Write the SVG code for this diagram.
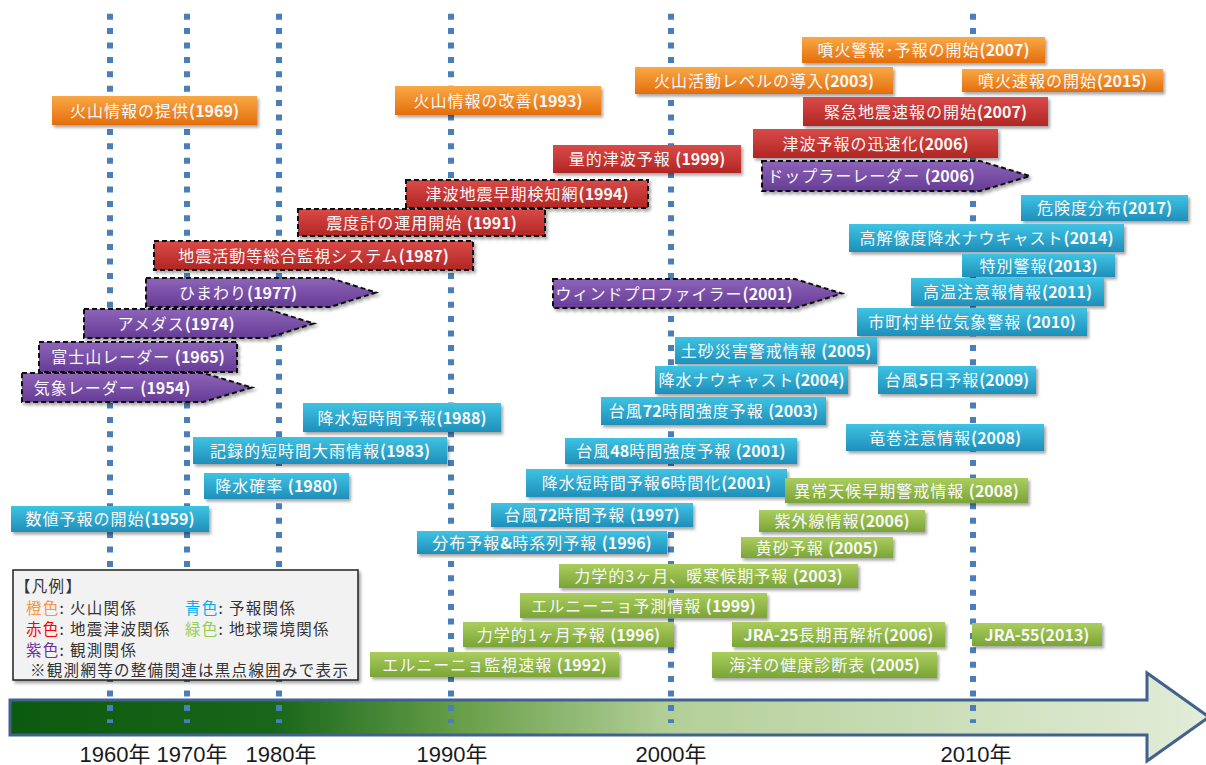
<svg xmlns="http://www.w3.org/2000/svg" width="1206" height="765" viewBox="0 0 1206 765">
<style>
.t{font-family:"Noto Sans CJK JP","Noto Sans",sans-serif;font-size:16px;fill:#f8f8f8;text-anchor:middle}
.j{letter-spacing:1px}
.y{font-weight:bold;letter-spacing:0}
.or{fill:url(#gOr)}
.rd{fill:url(#gRd)}
.pu{fill:url(#gPu)}
.bl{fill:url(#gBl)}
.gr{fill:url(#gGr)}
.box{filter:url(#sh)}
.dash{stroke:#111;stroke-width:2;stroke-dasharray:5 3}
.vl{stroke:#4a7ebb;stroke-width:6;stroke-dasharray:6 8.4;fill:none}
.yr{font-family:"Liberation Sans","Noto Sans CJK JP",sans-serif;font-size:22px;fill:#1a1a1a;text-anchor:middle}
.lg{font-family:"Noto Sans CJK JP",sans-serif;font-size:15.5px;fill:#333;letter-spacing:1.3px}
</style>
<defs>
<filter id="sh" x="-10%" y="-30%" width="125%" height="180%"><feDropShadow dx="2" dy="2.5" stdDeviation="1.5" flood-color="#000" flood-opacity="0.35"/></filter>
<linearGradient id="gOr" x1="0" y1="0" x2="0" y2="1"><stop offset="0" stop-color="#f9a846"/><stop offset="1" stop-color="#e46e0c"/></linearGradient>
<linearGradient id="gRd" x1="0" y1="0" x2="0" y2="1"><stop offset="0" stop-color="#d94a48"/><stop offset="1" stop-color="#b22624"/></linearGradient>
<linearGradient id="gPu" x1="0" y1="0" x2="0" y2="1"><stop offset="0" stop-color="#8d64b8"/><stop offset="1" stop-color="#663c96"/></linearGradient>
<linearGradient id="gBl" x1="0" y1="0" x2="0" y2="1"><stop offset="0" stop-color="#3ec3e3"/><stop offset="1" stop-color="#1f8fba"/></linearGradient>
<linearGradient id="gGr" x1="0" y1="0" x2="0" y2="1"><stop offset="0" stop-color="#abcd5e"/><stop offset="1" stop-color="#7aa536"/></linearGradient>
<linearGradient id="gAx" gradientUnits="userSpaceOnUse" x1="10" y1="0" x2="1206" y2="0"><stop offset="0" stop-color="#0b5a0f"/><stop offset="0.22" stop-color="#17661a"/><stop offset="0.38" stop-color="#6aa04a"/><stop offset="0.55" stop-color="#b3cf98"/><stop offset="1" stop-color="#e2ecd8"/></linearGradient>
</defs>
<rect width="1206" height="765" fill="#ffffff"/>

<g id="axis">
<path d="M10,700 L1147,700 L1147,673 L1209,717 L1147,761 L1147,735 L10,735 Z" fill="url(#gAx)" stroke="#41628e" stroke-width="3"/>
<text class="yr" x="115" y="762">1960年</text>
<text class="yr" x="192" y="762">1970年</text>
<text class="yr" x="281" y="762">1980年</text>
<text class="yr" x="452" y="762">1990年</text>
<text class="yr" x="671" y="762">2000年</text>
<text class="yr" x="976" y="762">2010年</text>
</g>

<g id="connectors">
<line class="vl" x1="110" y1="13.7" x2="110" y2="723"/>
<line class="vl" x1="187" y1="13.7" x2="187" y2="723"/>
<line class="vl" x1="279" y1="13.7" x2="279" y2="723"/>
<line class="vl" x1="451" y1="13.7" x2="451" y2="723"/>
<line class="vl" x1="671" y1="13.7" x2="671" y2="723"/>
<line class="vl" x1="973" y1="13.7" x2="973" y2="723"/>
</g>

<!-- orange -->
<g id="o1"><rect class="box or" x="52" y="96" width="205" height="29"/><text class="t" x="154.5" y="116.5"><tspan class="j">火山情報の提供</tspan><tspan class="y">(1969)</tspan></text></g>
<g id="o2"><rect class="box or" x="395" y="86" width="206" height="29"/><text class="t" x="498" y="106.5"><tspan class="j">火山情報の改善</tspan><tspan class="y">(1993)</tspan></text></g>
<g id="o3"><rect class="box or" x="635" y="67" width="258" height="27"/><text class="t" x="764" y="86.5"><tspan class="j">火山活動レベルの導入</tspan><tspan class="y">(2003)</tspan></text></g>
<g id="o4"><rect class="box or" x="802" y="37" width="243" height="26"/><text class="t" x="923.5" y="56"><tspan class="j">噴火警報･予報の開始</tspan><tspan class="y">(2007)</tspan></text></g>
<g id="o5"><rect class="box or" x="962" y="69" width="201" height="23"/><text class="t" x="1062.5" y="86.5"><tspan class="j">噴火速報の開始</tspan><tspan class="y">(2015)</tspan></text></g>

<!-- red -->
<g id="r1"><rect class="box rd" x="803" y="97" width="245" height="29"/><text class="t" x="925.5" y="117.5"><tspan class="j">緊急地震速報の開始</tspan><tspan class="y">(2007)</tspan></text></g>
<g id="r2"><rect class="box rd" x="753" y="129" width="245" height="29"/><text class="t" x="875.5" y="149.5"><tspan class="j">津波予報の迅速化</tspan><tspan class="y">(2006)</tspan></text></g>
<g id="r3"><rect class="box rd" x="553" y="145" width="188" height="28"/><text class="t" x="647" y="165"><tspan class="j">量的津波予報 </tspan><tspan class="y">(1999)</tspan></text></g>
<g id="r4"><rect class="box rd dash" x="406" y="180" width="242" height="28"/><text class="t" x="527" y="200"><tspan class="j">津波地震早期検知網</tspan><tspan class="y">(1994)</tspan></text></g>
<g id="r5"><rect class="box rd dash" x="298" y="209" width="247" height="27"/><text class="t" x="421.5" y="228.5"><tspan class="j">震度計の運用開始 </tspan><tspan class="y">(1991)</tspan></text></g>
<g id="r6"><rect class="box rd dash" x="154" y="241" width="319" height="29"/><text class="t" x="313.5" y="261.5"><tspan class="j">地震活動等総合監視システム</tspan><tspan class="y">(1987)</tspan></text></g>

<!-- purple -->
<g id="p1"><path class="box pu dash" d="M762,161 L980,161 L1030,176 L980,191 L762,191 Z"/><text class="t" x="871" y="182"><tspan class="j">ドップラーレーダー </tspan><tspan class="y">(2006)</tspan></text></g>
<g id="p2"><path class="box pu dash" d="M553,279 L795,279 L842,293.5 L795,308 L553,308 Z"/><text class="t" x="674" y="299.5"><tspan class="j">ウィンドプロファイラー</tspan><tspan class="y">(2001)</tspan></text></g>
<g id="p3"><path class="box pu dash" d="M146,278 L330,278 L376,292.5 L330,307 L146,307 Z"/><text class="t" x="238" y="298.5"><tspan class="j">ひまわり</tspan><tspan class="y">(1977)</tspan></text></g>
<g id="p4"><path class="box pu dash" d="M84,309 L267,309 L314,323.5 L267,338 L84,338 Z"/><text class="t" x="176" y="329.5"><tspan class="j">アメダス</tspan><tspan class="y">(1974)</tspan></text></g>
<g id="p5"><rect class="box pu dash" x="39" y="342" width="198" height="30"/><text class="t" x="138" y="363"><tspan class="j">富士山レーダー </tspan><tspan class="y">(1965)</tspan></text></g>
<g id="p6"><path class="box pu dash" d="M22,373 L203,373 L252,387.5 L203,402 L22,402 Z"/><text class="t" x="112" y="393.5"><tspan class="j">気象レーダー </tspan><tspan class="y">(1954)</tspan></text></g>

<!-- blue -->
<g id="b1"><rect class="box bl" x="1021" y="195" width="167" height="26"/><text class="t" x="1104.5" y="214"><tspan class="j">危険度分布</tspan><tspan class="y">(2017)</tspan></text></g>
<g id="b2"><rect class="box bl" x="849" y="224" width="275" height="28"/><text class="t" x="986.5" y="244"><tspan class="j">高解像度降水ナウキャスト</tspan><tspan class="y">(2014)</tspan></text></g>
<g id="b3"><rect class="box bl" x="962" y="254" width="153" height="23"/><text class="t" x="1038.5" y="271.5"><tspan class="j">特別警報</tspan><tspan class="y">(2013)</tspan></text></g>
<g id="b4"><rect class="box bl" x="911" y="278" width="193" height="28"/><text class="t" x="1007.5" y="298"><tspan class="j">高温注意報情報</tspan><tspan class="y">(2011)</tspan></text></g>
<g id="b5"><rect class="box bl" x="857" y="308" width="230" height="28"/><text class="t" x="972" y="328"><tspan class="j">市町村単位気象警報 </tspan><tspan class="y">(2010)</tspan></text></g>
<g id="b6"><rect class="box bl" x="675" y="337" width="202" height="27"/><text class="t" x="776" y="356.5"><tspan class="j">土砂災害警戒情報 </tspan><tspan class="y">(2005)</tspan></text></g>
<g id="b7"><rect class="box bl" x="655" y="366" width="193" height="28"/><text class="t" x="751.5" y="386"><tspan class="j">降水ナウキャスト</tspan><tspan class="y">(2004)</tspan></text></g>
<g id="b8"><rect class="box bl" x="878" y="366" width="158" height="28"/><text class="t" x="957" y="386"><tspan class="j">台風</tspan><tspan class="y">5</tspan><tspan class="j">日予報</tspan><tspan class="y">(2009)</tspan></text></g>
<g id="b9"><rect class="box bl" x="601" y="397" width="225" height="28"/><text class="t" x="713.5" y="417"><tspan class="j">台風</tspan><tspan class="y">72</tspan><tspan class="j">時間強度予報 </tspan><tspan class="y">(2003)</tspan></text></g>
<g id="b10"><rect class="box bl" x="846" y="424" width="198" height="27"/><text class="t" x="945" y="443.5"><tspan class="j">竜巻注意情報</tspan><tspan class="y">(2008)</tspan></text></g>
<g id="b11"><rect class="box bl" x="303" y="403" width="198" height="29"/><text class="t" x="402" y="423.5"><tspan class="j">降水短時間予報</tspan><tspan class="y">(1988)</tspan></text></g>
<g id="b12"><rect class="box bl" x="193" y="437" width="254" height="27"/><text class="t" x="320" y="456.5"><tspan class="j">記録的短時間大雨情報</tspan><tspan class="y">(1983)</tspan></text></g>
<g id="b13"><rect class="box bl" x="565" y="438" width="232" height="26"/><text class="t" x="681" y="457"><tspan class="j">台風</tspan><tspan class="y">48</tspan><tspan class="j">時間強度予報 </tspan><tspan class="y">(2001)</tspan></text></g>
<g id="b14"><rect class="box bl" x="204" y="473" width="145" height="26"/><text class="t" x="276.5" y="492"><tspan class="j">降水確率 </tspan><tspan class="y">(1980)</tspan></text></g>
<g id="b15"><rect class="box bl" x="526" y="469" width="261" height="28"/><text class="t" x="656.5" y="489"><tspan class="j">降水短時間予報</tspan><tspan class="y">6</tspan><tspan class="j">時間化</tspan><tspan class="y">(2001)</tspan></text></g>
<g id="b16"><rect class="box bl" x="491" y="503" width="202" height="24"/><text class="t" x="592" y="521"><tspan class="j">台風</tspan><tspan class="y">72</tspan><tspan class="j">時間予報 </tspan><tspan class="y">(1997)</tspan></text></g>
<g id="b17"><rect class="box bl" x="11" y="506" width="198" height="26"/><text class="t" x="110" y="525"><tspan class="j">数値予報の開始</tspan><tspan class="y">(1959)</tspan></text></g>
<g id="b18"><rect class="box bl" x="417" y="531" width="250" height="23"/><text class="t" x="542" y="548.5"><tspan class="j">分布予報</tspan><tspan class="y">&amp;</tspan><tspan class="j">時系列予報 </tspan><tspan class="y">(1996)</tspan></text></g>

<!-- green -->
<g id="g1"><rect class="box gr" x="785" y="478" width="243" height="25"/><text class="t" x="906.5" y="496.5"><tspan class="j">異常天候早期警戒情報 </tspan><tspan class="y">(2008)</tspan></text></g>
<g id="g2"><rect class="box gr" x="759" y="510" width="166" height="22"/><text class="t" x="842" y="527"><tspan class="j">紫外線情報</tspan><tspan class="y">(2006)</tspan></text></g>
<g id="g3"><rect class="box gr" x="741" y="537" width="152" height="21"/><text class="t" x="817" y="553.5"><tspan class="j">黄砂予報 </tspan><tspan class="y">(2005)</tspan></text></g>
<g id="g4"><rect class="box gr" x="559" y="564" width="299" height="24"/><text class="t" x="708.5" y="582"><tspan class="j">力学的3ヶ月、暖寒候期予報 </tspan><tspan class="y">(2003)</tspan></text></g>
<g id="g5"><rect class="box gr" x="520" y="593" width="247" height="25"/><text class="t" x="643.5" y="611.5"><tspan class="j">エルニーニョ予測情報 </tspan><tspan class="y">(1999)</tspan></text></g>
<g id="g6"><rect class="box gr" x="463" y="622" width="211" height="25"/><text class="t" x="568.5" y="640.5"><tspan class="j">力学的1ヶ月予報 </tspan><tspan class="y">(1996)</tspan></text></g>
<g id="g7"><rect class="box gr" x="732" y="622" width="213" height="25"/><text class="t" x="838.5" y="640.5"><tspan class="y">JRA-25</tspan><tspan class="j">長期再解析</tspan><tspan class="y">(2006)</tspan></text></g>
<g id="g8"><rect class="box gr" x="972" y="623" width="130" height="23"/><text class="t" x="1037" y="640.5"><tspan class="y">JRA-55(2013)</tspan></text></g>
<g id="g9"><rect class="box gr" x="370" y="652" width="249" height="25"/><text class="t" x="494.5" y="670.5"><tspan class="j">エルニーニョ監視速報 </tspan><tspan class="y">(1992)</tspan></text></g>
<g id="g10"><rect class="box gr" x="712" y="652" width="225" height="26"/><text class="t" x="824.5" y="671"><tspan class="j">海洋の健康診断表 </tspan><tspan class="y">(2005)</tspan></text></g>

<!-- legend -->
<g id="legend">
<rect x="13" y="570" width="345" height="110" fill="#f2f2f2" stroke="#222" stroke-width="1.5" filter="url(#sh)"/>
<text class="lg" x="15" y="592">【凡例】</text>
<text class="lg" x="26" y="614"><tspan fill="#f79646">橙色</tspan>: 火山関係</text>
<text class="lg" x="185" y="614"><tspan fill="#00b0f0">青色</tspan>: 予報関係</text>
<text class="lg" x="26" y="635"><tspan fill="#ff0000">赤色</tspan>: 地震津波関係</text>
<text class="lg" x="185" y="635"><tspan fill="#92d050">緑色</tspan>: 地球環境関係</text>
<text class="lg" x="26" y="656"><tspan fill="#7030a0">紫色</tspan>: 観測関係</text>
<text class="lg" x="30" y="676">※観測網等の整備関連は黒点線囲みで表示</text>
</g>
</svg>
